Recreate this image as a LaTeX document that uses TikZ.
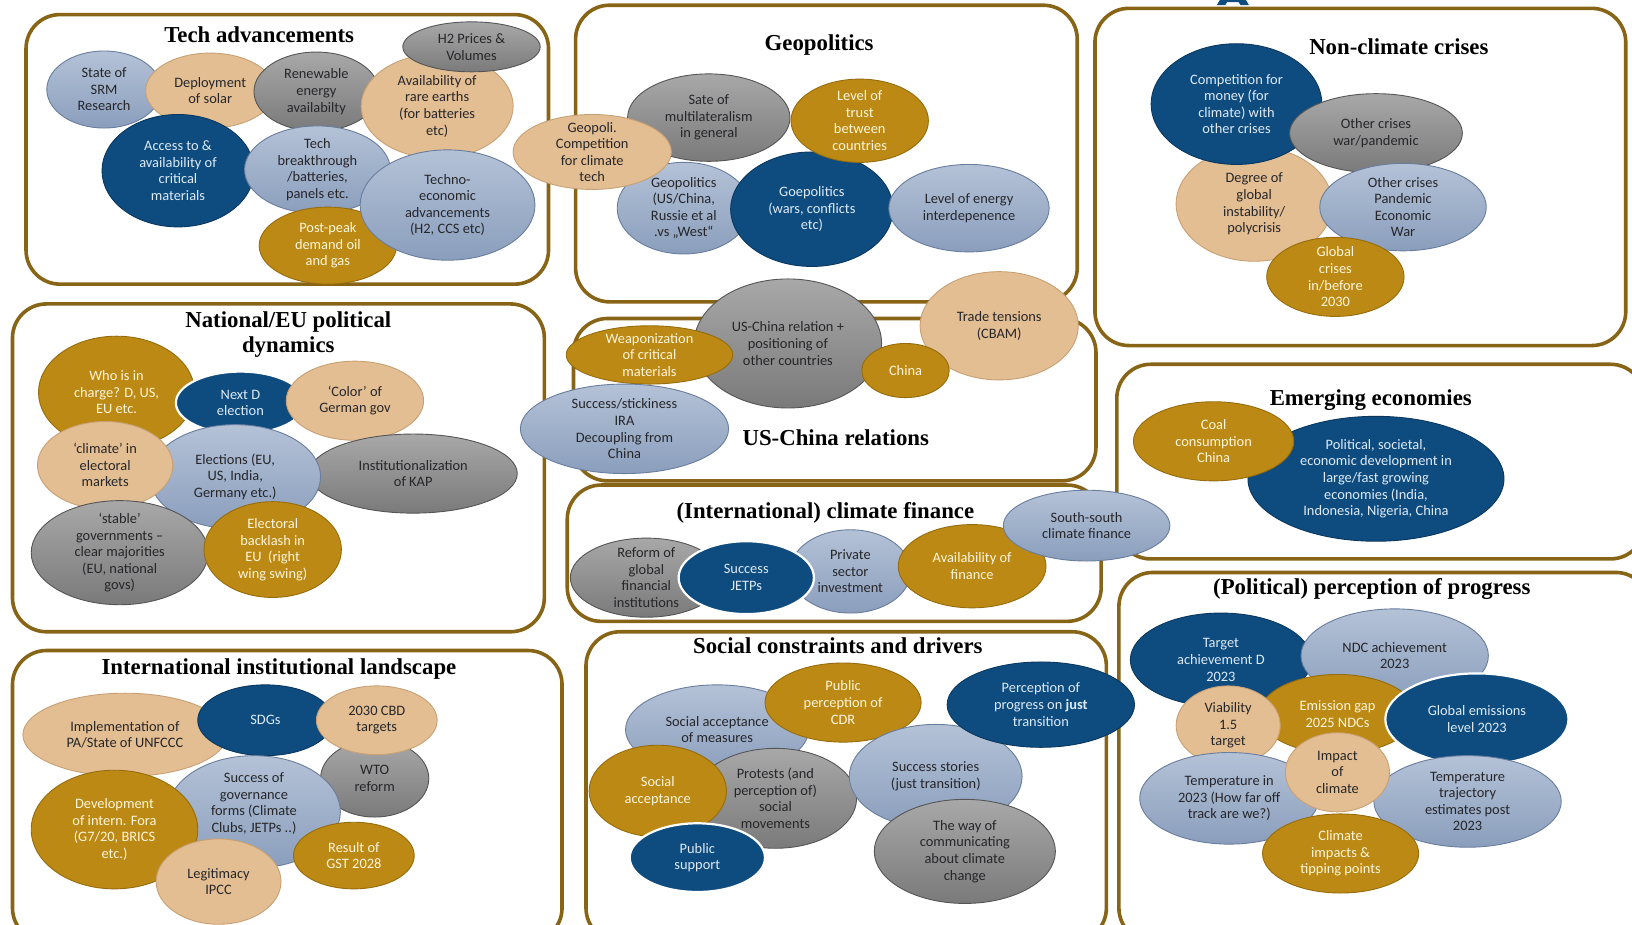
\documentclass[tikz,border=0pt]{standalone}
\usepackage{fontspec}
\setmainfont{Carlito}
\newfontfamily\titlefont{Liberation Serif}
\usetikzlibrary{shapes.geometric}
\definecolor{dbF}{RGB}{14,76,128}
\definecolor{dbD}{RGB}{10,55,95}
\definecolor{dbT}{RGB}{222,234,246}
\definecolor{gdF}{RGB}{188,137,20}
\definecolor{gdD}{RGB}{150,108,12}
\definecolor{gdT}{RGB}{255,246,218}
\definecolor{tnF}{RGB}{227,190,146}
\definecolor{tnD}{RGB}{200,160,115}
\definecolor{gyT}{RGB}{168,168,168}
\definecolor{gyB}{RGB}{122,122,122}
\definecolor{gyD}{RGB}{85,85,85}
\definecolor{lbT}{RGB}{180,194,215}
\definecolor{lbB}{RGB}{138,158,188}
\definecolor{lbD}{RGB}{105,125,158}
\definecolor{txD}{RGB}{38,38,42}
\definecolor{boxC}{RGB}{135,100,22}
\tikzset{
  x=1.0408pt, y=1.0408pt,
  bubble/.style={ellipse, inner sep=0pt, line width=0.9pt},
  btext/.style={align=center, inner sep=0pt, font=\fontsize{14.4}{16.6}\selectfont},
  cdb/.style={fill=dbF, draw=dbD}, tdb/.style={text=dbT},
  cgd/.style={fill=gdF, draw=gdD}, tgd/.style={text=gdT},
  ctn/.style={fill=tnF, draw=tnD}, ttn/.style={text=txD},
  cgy/.style={top color=gyT, bottom color=gyB, draw=gyD}, tgy/.style={text=txD},
  clb/.style={top color=lbT, bottom color=lbB, draw=lbD}, tlb/.style={text=txD},
  wb/.style={draw=white, line width=2.2pt},
  panel/.style={draw=boxC, line width=3.6pt, rounded corners=34pt, fill=white},
  ttl/.style={font=\titlefont\bfseries\fontsize{22.8}{25}\selectfont, align=center, text=black, inner sep=0pt},
}
% #1 extra options, #2 name, #3 colour key, #4 x, #5 y, #6 rx, #7 ry, #8 text
\newcommand\ovl[8][]{%
  \node[bubble,c#3,#1,minimum width={2.0816pt*#6},minimum height={2.0816pt*#7}] (#2) at (#4,-#5) {};
  \node[btext,t#3] (#2t) at (#2.center) {#8};}
\begin{document}
\begin{tikzpicture}
\useasboundingbox (0,0) rectangle (1568,-888);
\clip (0,0) rectangle (1568,-888);
% logo fragment
\fill[dbF] (1169,-5) -- (1172,0) -- (1197,0) -- (1200,-5) -- (1192,-5) -- (1190,-2) -- (1179,-2) -- (1177,-5) -- cycle;
% panels
\draw[panel] (25,-14) rectangle (527,-273);
\draw[panel] (553,-5) rectangle (1035,-290);
\draw[panel] (1052,-8) rectangle (1562,-332);
\draw[panel] (12,-292) rectangle (523,-607);
\draw[panel] (551,-306) rectangle (1053,-462);
\draw[panel] (545,-466) rectangle (1058,-597);
\draw[panel] (1073,-350) rectangle (1580,-537);
\draw[panel] (1075,-550) rectangle (1585,-905);
\draw[panel] (12,-625) rectangle (540,-905);
\draw[panel] (563,-607) rectangle (1063,-905);
% Tech advancements
\ovl{srm}{lb}{100}{86}{55}{37}{State of\\SRM\\Research}
\ovl{solar}{tn}{202}{87}{62}{36}{Deployment\\of solar}
\ovl{renew}{gy}{304}{88}{60}{38}{Renewable\\energy\\availabilty}
\ovl{rare}{tn}{420}{102}{73}{50}{Availability of\\rare earths\\(for batteries\\etc)}
\ovl{htwo}{gy}{453}{45}{66}{24}{H2 Prices \&\\Volumes}
\ovl{access}{db}{171}{164}{73}{54}{Access to \&\\availability of\\critical\\materials}
\ovl{techb}{lb}{305}{163}{70}{42}{Tech\\breakthrough\\/batteries,\\panels etc.}
\ovl{peak}{gd}{315}{236}{66}{37}{Post-peak\\demand oil\\and gas}
\ovl{techno}{lb}{430}{197}{84}{53}{Techno-\\economic\\advancements\\(H2, CCS etc)}
% Geopolitics
\ovl{multi}{gy}{681}{113}{78}{42}{Sate of\\multilateralism\\in general}
\ovl{usch}{lb}{657}{200}{64}{44}{Geopolitics\\(US/China,\\Russie et al\\.vs „West“}
\ovl{wars}{db}{780}{201}{78}{55}{Goepolitics\\(wars, conflicts\\etc)}
\ovl{trust}{gd}{826}{116}{66}{40}{Level of\\trust\\between\\countries}
\ovl{energy}{lb}{931}{200}{77}{42}{Level of energy\\interdepenence}
\ovl{compet}{tn}{569}{146}{76}{36}{Geopoli.\\Competition\\for climate\\tech}
% Non-climate crises
\ovl{degree}{tn}{1205}{196}{75}{55}{Degree of\\global\\instability/\\polycrisis}
\ovl{money}{db}{1188}{100}{82}{58}{Competition for\\money (for\\climate) with\\other crises}
\ovl{warpan}{gy}{1322}{128}{83}{38}{Other crises\\war/pandemic}
\ovl{pandem}{lb}{1348}{199}{80}{42}{Other crises\\Pandemic\\Economic\\War}
\ovl{global}{gd}{1283}{266}{66}{38}{Global\\crises\\in/before\\2030}
% National/EU
\ovl{who}{gd}{112}{377}{75}{54}{Who is in\\charge? D, US,\\EU etc.}
\ovl[wb]{nextd}{db}{231}{387}{62}{30}{Next D\\election}
\ovl{color}{tn}{341}{385}{66}{38}{‘Color’ of\\German gov}
\ovl{kap}{gy}{397}{455}{100}{38}{Institutionalization\\of KAP}
\ovl{elect}{lb}{226}{458}{82}{50}{Elections (EU,\\US, India,\\Germany etc.)}
\ovl{clim}{tn}{101}{447}{65}{42}{‘climate’ in\\electoral\\markets}
\ovl{stable}{gy}{115}{531}{85}{50}{‘stable’\\governments –\\clear majorities\\(EU, national\\govs)}
\ovl{backl}{gd}{262}{528}{66}{46}{Electoral\\backlash in\\EU~ (right\\wing swing)}
% US-China relations
\ovl{trade}{tn}{960}{313}{76}{52}{Trade tensions\\(CBAM)}
\ovl{uschrel}{gy}{757}{330}{90}{62}{US-China relation +\\positioning of\\other countries}
\ovl{china}{gd}{870}{356}{42}{26}{China}
\ovl{weap}{gd}{624}{341}{80}{28}{Weaponization\\of critical\\materials}
\ovl{ira}{lb}{600}{412}{100}{43}{Success/stickiness\\IRA\\Decoupling from\\China}
% climate finance
\ovl{reform}{gy}{621}{555}{73}{38}{Reform of\\global\\financial\\institutions}
\ovl{private}{lb}{817}{549}{58}{40}{Private\\sector\\investment}
\ovl[wb]{jetp}{db}{717}{555}{65}{35}{Success\\JETPs}
\ovl{avail}{gd}{934}{544}{71}{40}{Availability of\\finance}
\ovl{south}{lb}{1044}{505}{80}{34}{South-south\\climate finance}
% Emerging economies
\ovl{polit}{db}{1322}{460}{123}{60}{Political, societal,\\economic development in\\large/fast growing\\economies (India,\\Indonesia, Nigeria, China}
\ovl{coal}{gd}{1166}{424}{77}{38}{Coal\\consumption\\China}
% Perception of progress
\ovl{target}{db}{1173}{634}{87}{45}{Target\\achievement D\\2023}
\ovl{ndc}{lb}{1340}{630}{90}{45}{NDC achievement\\2023}
\ovl{gap}{gd}{1285}{686}{75}{38}{Emission gap\\2025 NDCs}
\ovl[wb]{gem}{db}{1419}{691}{88}{44}{Global emissions\\level 2023}
\ovl{viab}{tn}{1180}{697}{50}{38}{Viability\\1.5\\target}
\ovl{temp}{lb}{1181}{767}{86}{44}{Temperature in\\2023 (How far off\\track are we?)}
\ovl{traj}{lb}{1410}{770}{90}{44}{Temperature\\trajectory\\estimates post\\2023}
\ovl{impact}{tn}{1285}{742}{50}{38}{Impact\\of\\climate}
\ovl{tipp}{gd}{1288}{820}{75}{38}{Climate\\impacts \&\\tipping points}
% International institutional landscape
\ovl{impl}{tn}{120}{706}{98}{40}{Implementation of\\PA/State of UNFCCC}
\ovl{sdg}{db}{255}{692}{65}{34}{SDGs}
\ovl{wto}{gy}{360}{748}{52}{37}{WTO\\reform}
\ovl{cbd}{tn}{362}{692}{58}{33}{2030 CBD\\targets}
\node[bubble,clb,minimum width={2.0816pt*83},minimum height={2.0816pt*54}] (gov) at (244,-780) {};
\node[btext,tlb] (govt) at (244,-772) {Success of\\governance\\forms (Climate\\Clubs, JETPs ..)};
\ovl{dev}{gd}{110}{797}{80}{57}{Development\\of intern. Fora\\(G7/20, BRICS\\etc.)}
\ovl{gst}{gd}{340}{822}{58}{32}{Result of\\GST 2028}
\ovl{ipcc}{tn}{210}{847}{60}{41}{Legitimacy\\IPCC}
% Social constraints and drivers
\ovl{meas}{lb}{689}{701}{88}{43}{Social acceptance\\of measures}
\ovl{cdr}{gd}{810}{675}{75}{38}{Public\\perception of\\CDR}
\ovl{protest}{gy}{745}{767}{78}{48}{Protests (and\\perception of)\\social\\movements}
\ovl{socacc}{gd}{632}{760}{66}{44}{Social\\acceptance}
\ovl[wb]{pubsup}{db}{670}{824}{65}{33}{Public\\support}
\ovl{succ}{lb}{899}{746}{83}{50}{Success stories\\(just transition)}
\ovl{justt}{db}{1000}{677}{90}{41}{Perception of\\progress on \textbf{just}\\transition}
\ovl{comm}{gy}{927}{818}{87}{50}{The way of\\communicating\\about climate\\change}
% titles
\node[ttl] (t1) at (249,-33) {Tech advancements};
\node[ttl] (t2) at (787,-43) {Geopolitics};
\node[ttl] (t3) at (1344,-45) {Non-climate crises};
\node[ttl] (t4) at (277,-321) {National/EU political\\dynamics};
\node[ttl] (t5) at (803,-421) {US-China relations};
\node[ttl] (t6) at (793,-493) {(International) climate finance};
\node[ttl] (t7) at (1317,-384) {Emerging economies};
\node[ttl] (t8) at (1318,-566) {(Political) perception of progress};
\node[ttl] (t9) at (268,-643) {International institutional landscape};
\node[ttl] (t10) at (805,-620) {Social constraints and drivers};
\end{tikzpicture}
\end{document}
